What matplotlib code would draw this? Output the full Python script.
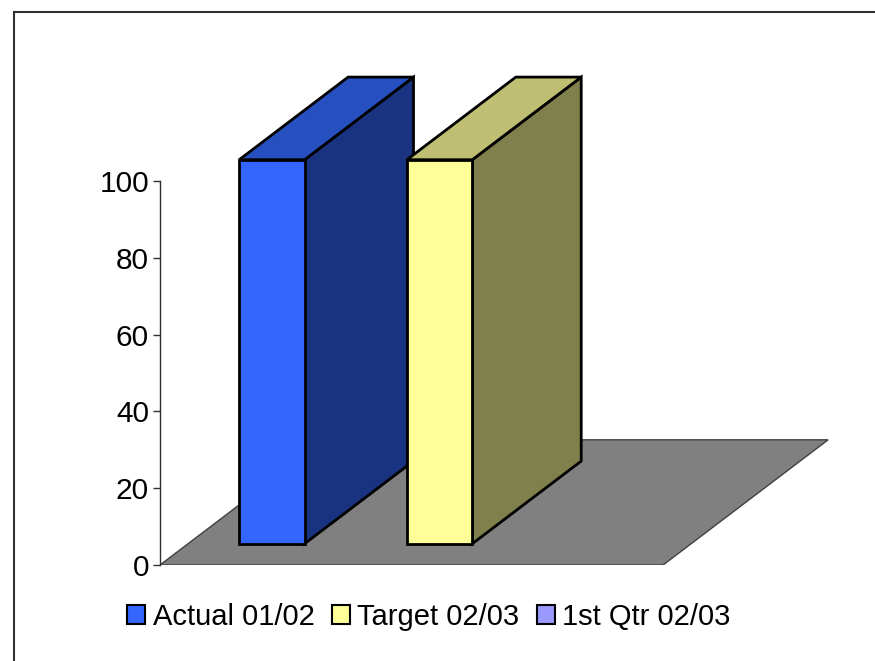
import matplotlib
matplotlib.use("Agg")
import matplotlib.pyplot as plt
from matplotlib.patches import Polygon, Patch
from matplotlib.lines import Line2D

plt.rcParams['font.family'] = ['Liberation Sans', 'DejaVu Sans']

# Data
series = ["Actual 01/02", "Target 02/03", "1st Qtr 02/03"]
values = [100, 100, None]
front_colors = ["#3366FF", "#FFFF99", "#9999FF"]
top_colors = ["#2650C0", "#BFBF73", "#7373BF"]
side_colors = ["#1A3380", "#80804D", "#4D4D80"]
yticks = [0, 20, 40, 60, 80, 100]

W, H = 875, 661
DPI = 100
fig = plt.figure(figsize=(W / DPI, H / DPI), dpi=DPI)

# Axes geometry (pixels): y=0 at 565, 3.84 px per unit; one series slot = 167.7 px
px_unit = 3.84
px_slot = 167.7
ax_left, ax_base = 160, 565
ymax = 129
xmax = 4.06
ax = fig.add_axes([ax_left / W, (H - ax_base) / H,
                   xmax * px_slot / W, ymax * px_unit / H])
ax.set_xlim(0, xmax)
ax.set_ylim(0, ymax)

# Oblique depth projection
DX, DY = 0.984, 32.6
def proj(x, v, d):
    return (x + d * DX, v + d * DY)

n = len(series)
# Floor
floor = [proj(0, 0, 0), proj(n, 0, 0), proj(n, 0, 1), proj(0, 0, 1)]
ax.add_patch(Polygon(floor, closed=True, facecolor="#808080",
                     edgecolor="#404040", lw=1, zorder=1))

bar_w = 0.39
d0, d1 = 0.17, 0.83
for i, v in enumerate(values):
    if v is None:
        continue
    x0 = i + 0.5 - bar_w / 2
    x1 = i + 0.5 + bar_w / 2
    front = [proj(x0, 0, d0), proj(x1, 0, d0), proj(x1, v, d0), proj(x0, v, d0)]
    top = [proj(x0, v, d0), proj(x1, v, d0), proj(x1, v, d1), proj(x0, v, d1)]
    side = [proj(x1, 0, d0), proj(x1, 0, d1), proj(x1, v, d1), proj(x1, v, d0)]
    for poly, col in ((side, side_colors[i]), (top, top_colors[i]), (front, front_colors[i])):
        ax.add_patch(Polygon(poly, closed=True, facecolor=col, edgecolor="black",
                             lw=2, joinstyle="miter", zorder=3))

# Value axis
for s in ("top", "right", "bottom"):
    ax.spines[s].set_visible(False)
ax.spines["left"].set_bounds(0, 100)
ax.spines["left"].set_color("#303030")
ax.spines["left"].set_linewidth(1)
ax.set_xticks([])
ax.set_yticks(yticks)
ax.tick_params(axis="y", direction="out", length=5, width=1, color="#303030",
               labelsize=21.5, pad=3)
ax.patch.set_alpha(0)

# Legend
handles = [Patch(facecolor=c, edgecolor="black", lw=1.5) for c in front_colors]
fig.legend(handles, series, loc="center", bbox_to_anchor=(429 / W, 1 - 617 / H),
           ncol=3, frameon=False, fontsize=21, handlelength=0.62, handleheight=0.62,
           handletextpad=0.25, columnspacing=0.6, borderaxespad=0)

# Chart area border
fig.add_artist(Line2D([14 / W, 14 / W], [0, 1 - 12 / H], color="#303030", lw=1.5))
fig.add_artist(Line2D([14 / W, 1], [1 - 12 / H, 1 - 12 / H], color="#303030", lw=1.5))

fig.savefig("out.png", dpi=DPI)
